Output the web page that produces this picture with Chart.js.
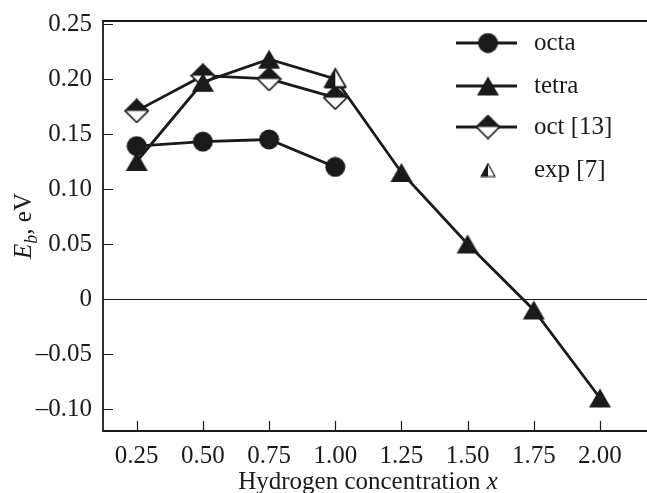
<!DOCTYPE html>
<html>
<head>
<meta charset="utf-8">
<script src="https://cdn.jsdelivr.net/npm/chart.js@4/dist/chart.umd.min.js"></script>
<style>
  html, body { margin: 0; padding: 0; background: #fff; }
  #wrap { width: 647px; height: 493px; }
</style>
</head>
<body>
<div id="wrap"><canvas id="chart" width="647" height="493"></canvas></div>
<script>
// hydrogen concentration and binding energies (eV)
const xOcta = [0.25, 0.50, 0.75, 1.00];
const octa = [0.139, 0.143, 0.145, 0.120];

const xTetra = [0.25, 0.50, 0.75, 1.00, 1.25, 1.50, 1.75, 2.00];
const tetra = [0.125, 0.197, 0.218, 0.200, 0.115, 0.050, -0.010, -0.090];

const xOct13 = [0.25, 0.50, 0.75, 1.00];
const oct13 = [0.171, 0.203, 0.200, 0.183];

const xExp = [1.00];
const exp7 = [0.201];

const xTicks = [0.25, 0.50, 0.75, 1.00, 1.25, 1.50, 1.75, 2.00];
const yTicks = [-0.10, -0.05, 0, 0.05, 0.10, 0.15, 0.20, 0.25];

const FONT = '"Liberation Serif", "Times New Roman", serif';
const INK = '#1a1a1a';

function pts(xs, ys) {
    return xs.map((x, i) => ({ x: x, y: ys[i] }));
}

// marker images
function makeMarker(w, h, draw) {
    const c = document.createElement('canvas');
    c.width = w; c.height = h;
    draw(c.getContext('2d'), w, h);
    return c;
}

const circleImg = makeMarker(21, 21, (g, w, h) => {
    g.fillStyle = INK;
    g.beginPath();
    g.arc(w / 2, h / 2, 10, 0, Math.PI * 2);
    g.fill();
});

const triangleImg = makeMarker(24, 21, (g, w, h) => {
    g.fillStyle = INK;
    g.beginPath();
    g.moveTo(w / 2, 1);
    g.lineTo(w - 1, h - 1);
    g.lineTo(1, h - 1);
    g.closePath();
    g.fill();
});

const halfTriangleImg = makeMarker(24, 21, (g, w, h) => {
    g.fillStyle = '#fff';
    g.beginPath();
    g.moveTo(w / 2, 1.5);
    g.lineTo(w - 1.5, h - 1.5);
    g.lineTo(1.5, h - 1.5);
    g.closePath();
    g.fill();
    g.fillStyle = INK;
    g.beginPath();
    g.moveTo(w / 2, 1.5);
    g.lineTo(w / 2, h - 1.5);
    g.lineTo(1.5, h - 1.5);
    g.closePath();
    g.fill();
    g.strokeStyle = INK;
    g.lineWidth = 1.6;
    g.beginPath();
    g.moveTo(w / 2, 1.5);
    g.lineTo(w - 1.5, h - 1.5);
    g.lineTo(1.5, h - 1.5);
    g.closePath();
    g.stroke();
});

const smallHalfTriangleImg = makeMarker(16, 15, (g, w, h) => {
    g.drawImage(halfTriangleImg, 0, 0, w, h);
});

const diamondImg = makeMarker(25, 25, (g, w, h) => {
    const cx = w / 2, cy = h / 2, r = 11.5;
    g.fillStyle = '#fff';
    g.beginPath();
    g.moveTo(cx, cy - r); g.lineTo(cx + r, cy); g.lineTo(cx, cy + r); g.lineTo(cx - r, cy);
    g.closePath();
    g.fill();
    g.fillStyle = INK;
    g.beginPath();
    g.moveTo(cx - r, cy); g.lineTo(cx, cy - r); g.lineTo(cx + r, cy);
    g.closePath();
    g.fill();
    g.strokeStyle = INK;
    g.lineWidth = 1.7;
    g.beginPath();
    g.moveTo(cx, cy - r); g.lineTo(cx + r, cy); g.lineTo(cx, cy + r); g.lineTo(cx - r, cy);
    g.closePath();
    g.stroke();
});

function fmtY(v) {
    if (Math.abs(v) < 1e-9) return '0';
    const s = Math.abs(v).toFixed(2);
    return v < 0 ? '\u2013' + s : s;
}

// frame, inward ticks, zero line, axis titles and the legend
const decorations = {
    id: 'decorations',
    beforeDatasetsDraw(chart) {
        const g = chart.ctx;
        const a = chart.chartArea;
        const ys = chart.scales.y;
        g.save();
        g.strokeStyle = INK;
        g.lineWidth = 1.2;
        const y0 = Math.round(ys.getPixelForValue(0)) + 0.5;
        g.beginPath();
        g.moveTo(a.left, y0);
        g.lineTo(a.right, y0);
        g.stroke();
        g.restore();
    },
    afterDraw(chart) {
        const g = chart.ctx;
        const a = chart.chartArea;
        const xs = chart.scales.x, ys = chart.scales.y;
        g.save();
        g.strokeStyle = INK;
        g.lineWidth = 1.8;
        g.beginPath();
        g.moveTo(a.right, a.top);
        g.lineTo(a.left, a.top);
        g.lineTo(a.left, a.bottom);
        g.lineTo(a.right, a.bottom);
        g.stroke();

        g.lineWidth = 1.2;
        g.beginPath();
        yTicks.forEach(v => {
            const p = Math.round(ys.getPixelForValue(v)) + 0.5;
            g.moveTo(a.left, p);
            g.lineTo(a.left + 10, p);
        });
        xTicks.forEach(v => {
            const p = Math.round(xs.getPixelForValue(v)) + 0.5;
            g.moveTo(p, a.bottom);
            g.lineTo(p, a.bottom - 10);
        });
        g.stroke();

        // x axis title
        g.fillStyle = INK;
        g.textBaseline = 'alphabetic';
        g.textAlign = 'left';
        const t1 = 'Hydrogen concentration ';
        g.font = 'italic 25px ' + FONT;
        const wX = g.measureText('x').width;
        g.font = '25px ' + FONT;
        const w1 = g.measureText(t1).width;
        const sx = 368 - (w1 + wX) / 2;
        g.fillText(t1, sx, 489);
        g.font = 'italic 25px ' + FONT;
        g.fillText('x', sx + w1, 489);

        // y axis title, rotated
        g.save();
        g.translate(31, 226);
        g.rotate(-Math.PI / 2);
        g.font = 'italic 25px ' + FONT;
        const wE = g.measureText('E').width;
        g.font = 'italic 18px ' + FONT;
        const wB = g.measureText('b').width;
        g.font = '25px ' + FONT;
        const wR = g.measureText(', eV').width;
        let px = -(wE + wB + wR) / 2;
        g.font = 'italic 25px ' + FONT;
        g.fillText('E', px, 0);
        px += wE;
        g.font = 'italic 18px ' + FONT;
        g.fillText('b', px, 6);
        px += wB;
        g.font = '25px ' + FONT;
        g.fillText(', eV', px, 0);
        g.restore();

        // legend
        const rows = [
            { label: 'octa', img: circleImg, line: true, y: 43 },
            { label: 'tetra', img: triangleImg, line: true, y: 86 },
            { label: 'oct [13]', img: diamondImg, line: true, y: 127 },
            { label: 'exp [7]', img: smallHalfTriangleImg, line: false, y: 170 }
        ];
        rows.forEach(r => {
            if (r.line) {
                g.lineWidth = 2.8;
                g.beginPath();
                g.moveTo(456, r.y);
                g.lineTo(517, r.y);
                g.stroke();
            }
            g.drawImage(r.img, 488 - r.img.width / 2, r.y - r.img.height / 2);
            g.font = '25px ' + FONT;
            g.textBaseline = 'middle';
            g.fillText(r.label, 534, r.y);
        });
        g.restore();
    }
};

const lineStyle = { borderColor: INK, borderWidth: 2.8, showLine: true, tension: 0 };

new Chart(document.getElementById('chart').getContext('2d'), {
    type: 'scatter',
    data: {
        datasets: [
            { label: 'exp [7]', data: pts(xExp, exp7), showLine: false,
              pointStyle: halfTriangleImg, order: 0 },
            Object.assign({}, lineStyle, { label: 'oct [13]', data: pts(xOct13, oct13),
                pointStyle: diamondImg, order: 2 }),
            Object.assign({}, lineStyle, { label: 'tetra', data: pts(xTetra, tetra),
                pointStyle: triangleImg, order: 1 }),
            Object.assign({}, lineStyle, { label: 'octa', data: pts(xOcta, octa),
                pointStyle: circleImg, order: 3 })
        ]
    },
    options: {
        responsive: false,
        animation: false,
        events: [],
        layout: { autoPadding: false, padding: { top: 21, right: 0, left: 0, bottom: 0 } },
        plugins: {
            legend: { display: false },
            tooltip: { enabled: false }
        },
        scales: {
            x: {
                type: 'linear',
                min: 0.1227,
                max: 2.1776,
                grid: { display: false, drawTicks: false },
                border: { display: false },
                afterBuildTicks: s => { s.ticks = xTicks.map(v => ({ value: v })); },
                afterFit: s => { s.height = 62; s.paddingLeft = 0; s.paddingRight = 0; },
                ticks: {
                    color: INK,
                    padding: 10,
                    maxRotation: 0,
                    font: { family: FONT, size: 25 },
                    callback: v => v.toFixed(2)
                }
            },
            y: {
                type: 'linear',
                min: -0.12,
                max: 0.2527,
                grid: { display: false, drawTicks: false },
                border: { display: false },
                afterBuildTicks: s => { s.ticks = yTicks.map(v => ({ value: v })); },
                afterFit: s => { s.width = 103; s.paddingTop = 0; s.paddingBottom = 0; },
                ticks: {
                    color: INK,
                    padding: 11,
                    font: { family: FONT, size: 25 },
                    callback: v => fmtY(v)
                }
            }
        }
    },
    plugins: [decorations]
});
</script>
</body>
</html>
